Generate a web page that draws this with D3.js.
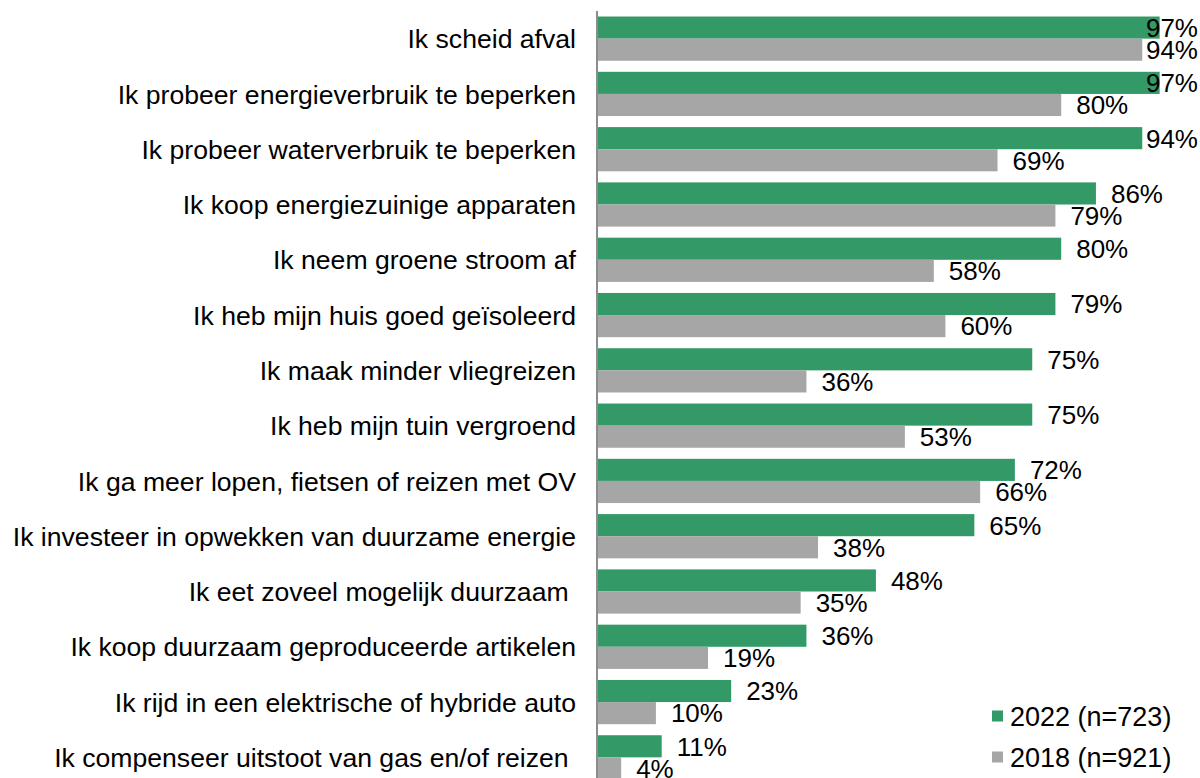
<!DOCTYPE html>
<html>
<head>
<meta charset="utf-8">
<script src="https://cdn.jsdelivr.net/npm/d3@7"></script>
<style>
  html, body { margin: 0; padding: 0; background: #fff; }
  svg { display: block; }
  text { font-family: "Liberation Sans", Arial, sans-serif; fill: #000; white-space: pre; }
</style>
</head>
<body>
<svg id="chart" width="1200" height="778"></svg>
<script>
const categories = [
  "Ik scheid afval",
  "Ik probeer energieverbruik te beperken",
  "Ik probeer waterverbruik te beperken",
  "Ik koop energiezuinige apparaten",
  "Ik neem groene stroom af",
  "Ik heb mijn huis goed geïsoleerd",
  "Ik maak minder vliegreizen",
  "Ik heb mijn tuin vergroend",
  "Ik ga meer lopen, fietsen of reizen met OV",
  "Ik investeer in opwekken van duurzame energie",
  "Ik eet zoveel mogelijk duurzaam ",
  "Ik koop duurzaam geproduceerde artikelen",
  "Ik rijd in een elektrische of hybride auto",
  "Ik compenseer uitstoot van gas en/of reizen "
];
const values2022 = [97, 97, 94, 86, 80, 79, 75, 75, 72, 65, 48, 36, 23, 11];
const values2018 = [94, 80, 69, 79, 58, 60, 36, 53, 66, 38, 35, 19, 10, 4];
const seriesNames = ["2022 (n=723)", "2018 (n=921)"];
const seriesColors = ["#339966", "#a6a6a6"];

const svg = d3.select("#chart");
const FONT = 26;
const CAT_FONT = 26.6;
const LEG_FONT = 27;

const y = d3.scaleBand()
  .domain(categories)
  .range([11, 785])
  .paddingInner(0.2)
  .paddingOuter(0.1);

const ySub = d3.scaleBand()
  .domain([0, 1])
  .range([0, y.bandwidth()]);

const x = d3.scaleLinear().domain([0, 100]).range([598, 1177]);

const rows = categories.map((c, i) => ({ cat: c, vals: [values2022[i], values2018[i]] }));

const g = svg.append("g");

// bars
rows.forEach(r => {
  r.vals.forEach((v, s) => {
    g.append("rect")
      .attr("x", x(0))
      .attr("y", y(r.cat) + ySub(s))
      .attr("width", x(v) - x(0))
      .attr("height", ySub.bandwidth())
      .attr("fill", seriesColors[s]);
  });
});

// value labels
rows.forEach(r => {
  r.vals.forEach((v, s) => {
    const t = g.append("text")
      .attr("y", y(r.cat) + ySub(s) + ySub.bandwidth() / 2)
      .attr("dy", "0.36em")
      .attr("font-size", FONT)
      .text(v + "%");
    const w = t.node().getComputedTextLength();
    const lx = Math.min(x(v) + 15, 1198 - w);
    t.attr("x", lx);
  });
});

// axis line (category axis)
const yAxis = d3.axisLeft(y).tickSize(0).tickPadding(21);
const ax = svg.append("g").attr("transform", `translate(${x(0) - 1},0)`).call(yAxis);
ax.select(".domain").attr("stroke", "#8c8c8c").attr("stroke-width", 2)
  .attr("d", `M0,11V778`);
ax.selectAll(".tick text")
  .attr("font-size", CAT_FONT)
  .attr("font-family", "Liberation Sans, Arial, sans-serif")
  .attr("fill", "#000")
  .attr("dy", "0.36em")
  .style("white-space", "pre");

// legend
const legend = svg.append("g");
seriesNames.forEach((name, i) => {
  const ly = 716 + i * 41;
  legend.append("rect")
    .attr("x", 992).attr("y", ly - 5.5)
    .attr("width", 11).attr("height", 11)
    .attr("fill", seriesColors[i]);
  legend.append("text")
    .attr("x", 1010).attr("y", ly)
    .attr("dy", "0.36em")
    .attr("font-size", LEG_FONT)
    .text(name);
});
</script>
</body>
</html>
